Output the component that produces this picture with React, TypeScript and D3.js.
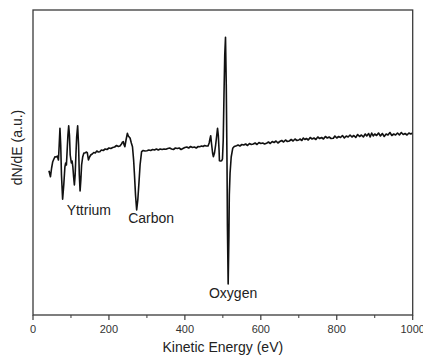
import React from "react";
import * as d3 from "d3";

const energy: number[] = [
  42, 46, 49, 52, 55, 58, 61, 64, 67, 69, 71, 73, 75, 78, 81, 84, 86, 88, 90, 92, 94, 96, 98, 101, 103, 105, 107, 109, 111, 113, 115, 117.6, 120, 122, 124, 126, 128, 131, 134, 137, 140, 143, 146, 149, 152, 156, 160, 164, 168, 172, 176, 180, 185, 190, 195, 200, 205, 210, 215, 220, 225, 229, 233, 236, 238, 240, 242, 245, 248.5, 251, 255.6, 259, 262, 265, 267, 270, 273, 276, 279, 282, 286, 290, 295, 300, 305, 310, 315, 320, 325, 330, 335, 340, 345, 350, 355, 360, 365, 370, 375, 380, 385, 390, 396, 400, 405, 410, 415, 420, 425, 430, 435, 439, 444, 448, 452, 456, 461, 464, 466, 468, 470, 473, 475, 478, 481, 484, 486, 488, 490, 491, 494, 497, 499, 501, 503, 505, 507, 509, 511, 512, 514, 516, 517, 519, 522, 526, 530, 536, 540, 545, 550, 555, 560, 565, 570, 575, 580, 585, 590, 595, 600, 605, 610, 615, 620, 625, 630, 635, 640, 645, 650, 655, 660, 665, 670, 675, 680, 685, 690, 695, 700, 703, 708, 712, 716, 720, 725, 730, 735, 740, 745, 750, 755, 760, 765, 770, 775, 780, 785, 791, 795, 800, 805, 810, 815, 820, 825, 830, 835, 840, 845, 850, 855, 860, 865, 870, 875, 879, 884, 888, 892, 896, 900, 905, 910, 915, 920, 925, 930, 935, 940, 945, 950, 955, 960, 965, 970, 975, 980, 985, 990, 995, 1000,
];

const dNdE: number[] = [
  144.3, 138.3, 147, 153.3, 156, 158.3, 158, 159, 155, 170, 186.7, 170, 140, 115.7, 130, 148, 152, 150, 165, 180, 189.3, 180, 160, 152, 154, 148, 138, 130, 140, 160, 178, 189.3, 170, 140, 124, 135, 150, 158.3, 162, 162, 163, 162.3, 155, 158, 160, 161, 162.5, 162, 164, 163, 163.3, 165, 164.5, 166, 165.5, 167, 166.5, 167.5, 168, 169.5, 168.5, 169, 171, 173, 173.3, 170, 168.3, 175, 181.7, 179, 177, 172, 168.3, 155, 142, 120, 105, 115, 132, 150, 163.3, 164.5, 164, 164.3, 165, 164.5, 165.5, 165, 166, 165, 166, 165.5, 166, 165.7, 166.5, 167, 166, 165.5, 167, 166.5, 167, 165.5, 166.7, 167.5, 168, 167, 168.5, 167.5, 168, 167, 168.5, 168.3, 169, 168.5, 169.5, 169, 169, 172, 176, 179.3, 172, 162, 158.3, 162, 170, 180, 186.7, 180, 165, 154.3, 154, 154.3, 156, 175, 220, 260, 277.7, 230, 150, 90, 31, 80, 120, 142, 158, 166.7, 168.5, 169.3, 170, 169, 170.5, 170, 171, 169.5, 171.5, 170.5, 171, 172, 170.5, 172.5, 171.5, 172, 171, 171.7, 173, 171.5, 173.5, 172.5, 174, 172, 173.5, 174.5, 173, 175, 173.5, 174, 175.5, 174, 176, 174.5, 175, 176, 174.5, 177, 175.5, 176.5, 175, 177.5, 176, 177, 175.5, 178, 176.5, 177.5, 176, 178.5, 177, 178, 176.5, 176.7, 179, 177, 178.5, 177.5, 179.5, 177, 179, 178, 180, 178, 179.5, 177.5, 180.5, 178.5, 180, 178, 181, 179, 181.5, 178, 182, 179, 181, 179.5, 182, 179, 181.5, 178.5, 181, 180, 182.5, 179.5, 181, 180, 182, 180, 182.5, 180.5, 181.5, 180, 182, 181, 182,
];

const xTicks: number[] = [0, 200, 400, 600, 800, 1000];
const xMinorTicks: number[] = [100, 300, 500, 700, 900];

const peakLabels: string[] = ["Yttrium", "Carbon", "Oxygen"];
const peakLabelEnergy: number[] = [147, 311, 527];
const peakLabelValue: number[] = [100, 92.3, 17];

const W = 423;
const H = 358;
const left = 33;
const right = 412.7;
const top = 10;
const bottom = 315;
const font = "'Liberation Sans', Arial, sans-serif";

export default function App() {
  const x = d3.scaleLinear().domain([0, 1000]).range([left, right]);
  const y = d3.scaleLinear().domain([0, 305]).range([bottom, top]);
  const pts: [number, number][] = energy.map((e, i) => [e, dNdE[i]]);
  const line = d3
    .line<[number, number]>()
    .x((d) => x(d[0]))
    .y((d) => y(d[1]))
    .curve(d3.curveLinear);

  return (
    <svg
      width={W}
      height={H}
      style={{ position: "absolute", left: 0, top: 0, background: "#fff" }}
      fontFamily={font}
    >
      <rect x={0} y={0} width={W} height={H} fill="#fff" />
      <path d={line(pts) || ""} fill="none" stroke="#111" strokeWidth={1.6} strokeLinejoin="round" />
      <rect
        x={left}
        y={top}
        width={right - left}
        height={bottom - top}
        fill="none"
        stroke="#3a3a3a"
        strokeWidth={1.3}
      />
      {xTicks.map((t) => (
        <g key={"t" + t}>
          <line x1={x(t)} x2={x(t)} y1={bottom} y2={bottom + 5} stroke="#3a3a3a" strokeWidth={1.2} />
          <text x={x(t)} y={333} fontSize={11} textAnchor="middle" fill="#333">
            {t}
          </text>
        </g>
      ))}
      {xMinorTicks.map((t) => (
        <line key={"m" + t} x1={x(t)} x2={x(t)} y1={bottom} y2={bottom + 3} stroke="#3a3a3a" strokeWidth={1} />
      ))}
      <text x={(left + right) / 2} y={352} fontSize={14} textAnchor="middle" fill="#222">
        Kinetic Energy (eV)
      </text>
      <text
        transform={`translate(22,${(top + bottom) / 2 - 15}) rotate(-90)`}
        fontSize={14}
        textAnchor="middle"
        fill="#222"
      >
        dN/dE (a.u.)
      </text>
      {peakLabels.map((s, i) => (
        <text
          key={s}
          x={x(peakLabelEnergy[i])}
          y={y(peakLabelValue[i])}
          fontSize={14}
          textAnchor="middle"
          fill="#222"
        >
          {s}
        </text>
      ))}
    </svg>
  );
}
